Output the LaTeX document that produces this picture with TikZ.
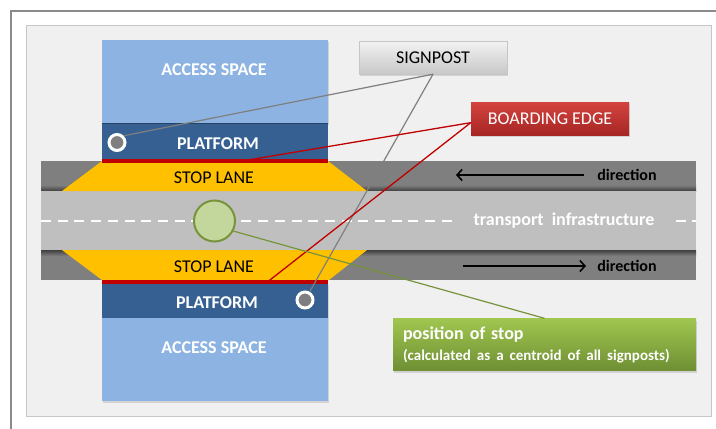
\documentclass[tikz,border=0pt]{standalone}
\usepackage{fontspec}
\setmainfont{Carlito}
\usetikzlibrary{arrows.meta,shadows}

\definecolor{accessblue}{HTML}{8DB3E2}
\definecolor{platformblue}{HTML}{366092}
\definecolor{edgered}{HTML}{C00000}
\definecolor{lanegold}{HTML}{FFC000}
\definecolor{roadgray}{HTML}{BFBFBF}
\definecolor{lanegray}{HTML}{7F7F7F}
\definecolor{stopgreen}{HTML}{C3D69B}
\definecolor{stopdark}{HTML}{77933C}
\definecolor{panelgray}{HTML}{F0F0F0}
\definecolor{panelline}{HTML}{C6C6C6}
\definecolor{framegray}{HTML}{8A8A8A}
\definecolor{posttop}{HTML}{F2F2F2}
\definecolor{postbot}{HTML}{C8C8C8}
\definecolor{bedgetop}{HTML}{D4433F}
\definecolor{bedgebot}{HTML}{A62624}
\definecolor{greentop}{HTML}{A0C650}
\definecolor{greenbot}{HTML}{6F8F33}

\begin{document}
\begin{tikzpicture}[x=1pt,y=-1pt,
    txt/.style={font=\fontsize{18}{20}\selectfont},
    whitetxt/.style={text=white,font=\fontsize{18}{20}\selectfont\bfseries},
    dirtxt/.style={font=\fontsize{16}{18}\selectfont\bfseries},
    dirarrow/.style={line width=1.6pt,-{Straight Barb[length=5pt,width=11pt,line width=1.6pt]}},
    signpt/.style={circle,draw=white,line width=3pt,fill=lanegray,minimum size=16pt,inner sep=0pt,
      drop shadow={opacity=.3,shadow xshift=.5pt,shadow yshift=-1pt}},
    callout/.style={minimum height=33pt,inner sep=0pt,font=\fontsize{18}{20}\selectfont,
      drop shadow={opacity=.25,shadow xshift=1pt,shadow yshift=-2pt}},
    greyline/.style={draw=lanegray,line width=1.2pt},
    redline/.style={draw=edgered,line width=1.3pt},
    greenline/.style={draw=stopdark,line width=1.2pt},
    ]
  \useasboundingbox (0,0) rectangle (716,429);
  \fill[white] (0,0) rectangle (716,429);

  % frame and panel
  \draw[framegray,line width=2pt] (11,429) -- (11,11) -- (716,11);
  \draw[panelline,fill=panelgray] (26,25) rectangle (711,416);

  % road
  \fill[lanegray] (41,161) rectangle (696,191);
  \shade[top color=lanegray,bottom color=black!75] (41,185) rectangle (696,191);
  \fill[lanegray] (41,250) rectangle (696,280);
  \shade[top color=black!75,bottom color=lanegray] (41,250) rectangle (696,256);
  \fill[roadgray] (41,191) rectangle (696,250);
  \draw[white,line width=2pt,dash pattern=on 10pt off 6.7pt] (41,221) -- (696,221);

  % stop lanes
  \fill[lanegold] (102,161) -- (328,161) -- (367,191) -- (62,191) -- cycle;
  \fill[lanegold] (62,250) -- (367,250) -- (329,280) -- (102,280) -- cycle;

  % upper stop area
  \fill[accessblue,drop shadow={opacity=.25,shadow xshift=1pt,shadow yshift=-2pt}] (102,40) rectangle (328,123);
  \fill[platformblue] (102,123) rectangle (328,160);
  \draw[platformblue!70!black] (102,123.5) -- (328,123.5);
  \fill[edgered] (102,159) rectangle (328,163);

  % lower stop area
  \fill[accessblue,drop shadow={opacity=.25,shadow xshift=1pt,shadow yshift=-2pt}] (102,283) rectangle (328,401);
  \fill[platformblue] (102,283) rectangle (328,318);
  \fill[edgered] (102,280) rectangle (328,284);

  \node[whitetxt] (acc1) at (214,70) {ACCESS SPACE};
  \node[whitetxt] (plat1) at (218,144) {PLATFORM};
  \node[txt] (lane1) at (214,178) {STOP LANE};
  \node[txt] (lane2) at (214,267) {STOP LANE};
  \node[whitetxt] (plat2) at (217,303) {PLATFORM};
  \node[whitetxt] (acc2) at (214,348) {ACCESS SPACE};

  % directions
  \node[dirtxt] (dir1) at (627,175) {direction};
  \node[dirtxt] (dir2) at (627,266) {direction};
  \coordinate (dir1a) at (584,175);
  \coordinate (dir1b) at (456,175);
  \coordinate (dir2a) at (463,266);
  \coordinate (dir2b) at (586,266);
  \draw[dirarrow] (dir1a) -- (dir1b);
  \draw[dirarrow] (dir2a) -- (dir2b);

  \node[text=white,fill=roadgray,inner xsep=21pt,inner ysep=2pt,font=\fontsize{18}{20}\selectfont\bfseries]
    (infra) at (564,221) {transport\ \ infrastructure};

  % stop position and signposts
  \node[circle,fill=stopgreen,draw=stopdark,line width=2pt,minimum size=41pt,inner sep=0pt] (centroid) at (214.5,221) {};
  \node[signpt] (sp1) at (117,142.5) {};
  \node[signpt] (sp2) at (305,300) {};

  \coordinate (edge1) at (242,161);
  \coordinate (edge2) at (268,281.5);

  % labels
  \node[callout,minimum width=148pt,top color=posttop,bottom color=postbot,draw=panelline] (signpost) at (433,57.5) {SIGNPOST};
  \node[callout,minimum width=158pt,text=white,top color=bedgetop,bottom color=bedgebot] (bedge) at (550,118.5) {BOARDING EDGE};
  \node[callout,minimum width=303pt,minimum height=52pt,text width=283pt,inner xsep=10pt,align=left,
    text=white,top color=greentop,bottom color=greenbot,font=\fontsize{18}{21}\selectfont\bfseries]
    (stoppos) at (544.5,344.5) {position of stop\\{\fontsize{15}{21}\selectfont (calculated as a centroid of all signposts)}};

  % connectors
  \path[greyline] (signpost.south) edge (sp1.45);
  \path[greyline] (signpost.south) edge (sp2);
  \path[redline] (bedge.183) edge (edge1);
  \path[redline] (bedge.183) edge (edge2);
  \path[greenline] (centroid.-28) edge (stoppos.north);
\end{tikzpicture}
\end{document}
